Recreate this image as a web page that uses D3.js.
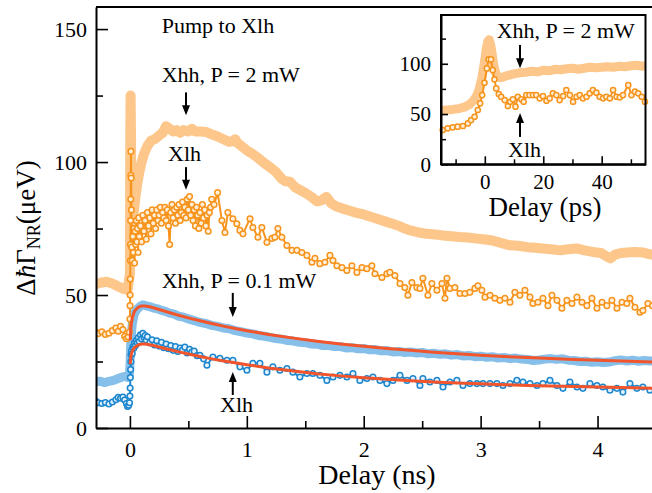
<!DOCTYPE html>
<html><head><meta charset="utf-8">
<script src="https://cdn.jsdelivr.net/npm/d3@7"></script>
<style>body{margin:0;background:#fff}</style>
</head><body><svg id="c" width="652" height="493" font-family="Liberation Serif"></svg>
<script>
// ---------------- DATA (delay, value) ----------------
const mainXTicks = [0, 1, 2, 3, 4];
const mainXMinor = [0.5, 1.5, 2.5, 3.5, 4.5];
const mainYTicks = [0, 50, 100, 150];
const mainYMinor = [25, 75, 125];
const insetXTicks = [0, 20, 40];
const insetXMinor = [-10, 10, 30, 50];
const insetYTicks = [0, 50, 100];
const insetYMinor = [25, 75, 125];

const xhh2mW = [[-0.3,54],[-0.25,54.6],[-0.2,55],[-0.15,54.3],[-0.1,53.2],[-0.05,52.2],[-0.02,52],[0,58],[0.003,110],[0.006,125],[0.009,112],[0.013,85],[0.018,76],[0.03,80],[0.045,86],[0.06,91],[0.08,96],[0.1,100],[0.12,103],[0.15,106],[0.18,108],[0.21,108.5],[0.25,110],[0.28,111],[0.31,113.5],[0.34,112.5],[0.37,111.5],[0.4,112],[0.43,111],[0.46,112],[0.5,111.5],[0.53,112.5],[0.56,111.5],
[0.6,111.5],[0.65,111.3],[0.7,110.4],[0.75,109.6],[0.8,108.6],[0.85,107.6],[0.88,107.8],[0.9,108.6],[0.92,107.2],[0.96,105.8],[1.0,104.4],[1.05,103],[1.1,101.4],[1.15,99.6],[1.2,98],[1.25,96.2],[1.3,93.6],[1.33,92.8],[1.37,92.6],[1.41,90.6],[1.45,89.6],[1.5,88.4],[1.55,87],[1.6,85.2],[1.64,85.6],[1.68,86.9],[1.72,84.6],[1.76,83.4],[1.82,82.5],[1.88,81.7],[1.94,80.9],[2.0,80.3],[2.06,79.4],[2.12,78.6],[2.18,77.7],[2.24,76.9],[2.3,76],[2.35,75],
[2.4,74.3],[2.47,73.5],[2.54,73],[2.61,72.8],[2.68,72.4],[2.75,72.1],[2.82,71.8],[2.89,71.6],[2.97,71.2],[3.04,70.9],[3.1,70.5],[3.18,69.5],[3.25,68.7],[3.32,68.5],[3.4,68],[3.47,67.8],[3.53,67.5],[3.6,67.2],[3.68,66.8],[3.75,67.2],[3.82,67.5],[3.89,66.8],[3.96,66.2],[4.03,65.8],[4.08,64.5],[4.11,63.8],[4.15,65.2],[4.2,65.8],[4.25,66],[4.32,66.2],[4.39,66],[4.45,65.3],[4.5,65]];

const xlh2mW = [[-0.29,36],[-0.27,35.5],[-0.24,36.2],[-0.21,35.2],[-0.18,35.6],[-0.15,36.6],[-0.12,37.6],[-0.1,36.4],[-0.08,38.2],[-0.06,37],[-0.045,34.5],[-0.03,33.6],[-0.015,34.2],[-0.005,36],
[0.0,41],[0.001,46],[0.002,50],[0.003,56],[0.004,63],[0.005,69],[0.006,78],[0.007,86],[0.008,95],[0.009,104],[0.011,94],[0.013,82],[0.016,68],[0.02,63],
[0.025,72],[0.03,66],[0.035,75],[0.04,62],[0.045,74],[0.05,69],[0.055,78],[0.06,70],[0.065,75],[0.07,66],[0.075,79],[0.08,72],[0.09,76],[0.1,70],[0.11,80],[0.12,74],[0.13,78],[0.14,71],[0.15,81],[0.16,76],[0.17,79],[0.18,73],[0.19,82],[0.2,77],[0.21,80],[0.22,75],[0.23,82],[0.24,78],[0.25,80],[0.26,83],[0.27,77],[0.28,81],[0.29,79],[0.3,83],[0.31,78],[0.32,82],[0.33,76],[0.34,69],[0.35,81],[0.36,84],[0.37,79],[0.38,82],[0.39,77],[0.4,83],[0.41,80],[0.42,84],[0.43,78],[0.44,81],[0.45,85],[0.46,80],[0.47,83],[0.48,79],[0.49,86],[0.5,82],[0.51,87],[0.52,80],[0.53,84],[0.54,78],[0.55,82],[0.56,76],[0.57,83],[0.58,80],[0.59,75],[0.6,81],[0.61,77],[0.62,84],[0.63,79],[0.64,82],[0.65,76],[0.66,80],[0.67,74],[0.68,81],[0.69,83],[0.7,86],[0.72,84],[0.75,88.5],
[0.787,78],[0.813,73.5],[0.838,81],[0.881,78.7],[0.915,76.8],[0.941,74.3],[0.967,73],[1.027,78.7],[1.052,75.4],[1.095,71.7],[1.129,75.4],[1.172,69.8],[1.215,71.3],[1.24,71.7],[1.266,75],[1.3,71.7],[1.343,68.6],[1.386,66.8],[1.429,66.8],[1.471,66],[1.514,64.9],[1.557,62.3],[1.583,63.8],[1.625,61.8],[1.668,62.3],[1.711,64.9],[1.737,63],[1.771,61],[1.814,60.3],[1.856,59.2],[1.899,61],[1.942,58.5],[1.985,60.3],[2.027,59.9],[2.07,61],[2.096,58],[2.156,56.6],[2.198,58],[2.224,58.5],[2.267,57.3],[2.31,54.3],[2.352,52.8],[2.378,49.9],[2.412,54.7],[2.455,52.8],
[2.481,52.5],[2.506,56.3],[2.549,49.9],[2.583,54.3],[2.626,51.8],[2.669,54.3],[2.695,48.8],[2.712,56.3],[2.737,52.5],[2.78,52.8],[2.823,50.6],[2.866,50.6],[2.908,51],[2.951,52.5],[2.977,53.5],[3.011,51.8],[3.037,49.2],[3.08,49.9],[3.122,48.8],[3.165,48],[3.208,48.8],[3.251,47.3],[3.293,51],[3.336,49.9],[3.379,51.8],[3.422,49.2],[3.447,46.8],[3.49,47.3],[3.533,48.8],[3.576,46],[3.61,49.9],[3.653,48],[3.695,45],[3.738,48],[3.781,46.8],[3.824,49.2],[3.867,47.3],[3.909,46],[3.952,48.8],[3.995,45],[4.038,47.3],[4.08,46],[4.123,48],[4.166,45],[4.209,47.3],[4.251,46.8],[4.277,48.8],[4.32,45.4],[4.363,43.5],[4.388,44.2],[4.431,46.8],[4.47,46]];

const xhh01mW = [[-0.3,17.3],[-0.26,17.6],[-0.22,17.1],[-0.18,17.5],[-0.14,17.9],[-0.1,18.6],[-0.07,19.1],[-0.04,19.4],[-0.02,19],[-0.005,20],[0.0,23],[0.005,29],[0.01,34],[0.02,39],[0.035,42.5],[0.05,44],[0.07,45],[0.09,45.8],[0.11,46.3],[0.13,46.1],[0.15,45.8],[0.18,45.5],[0.21,45],[0.24,44.8],[0.27,44.2],[0.3,43.9],[0.34,43.2],[0.38,42.8],[0.42,42],[0.46,41.7],[0.5,41],[0.55,40.4],[0.6,39.7],[0.65,39.3],[0.7,38.6],[0.75,38.2],[0.8,37.6],[0.85,37.3],[0.9,36.6],[0.95,36.2],[1.0,35.7],[1.05,35.4],[1.1,34.8],[1.15,34.5],[1.2,34.1],[1.25,33.6],[1.3,33.4],[1.35,32.9],[1.4,32.7],[1.45,32.2],[1.5,32.1],[1.55,31.6],[1.6,31.5],[1.65,31],[1.7,31],[1.75,30.6],[1.8,30.6],[1.85,30.1],[1.9,30.2],[1.95,29.8],[2.0,29.9],[2.05,29.4],[2.1,29.5],[2.15,29],[2.2,29.1],[2.25,28.6],[2.3,28.8],[2.35,28.4],[2.4,28.6],[2.45,28.2],[2.5,28.4],[2.55,27.9],[2.6,28.1],[2.65,27.7],[2.7,27.9],[2.75,27.4],[2.8,27.6],[2.85,27.1],[2.9,27.3],[2.95,26.8],[3.0,27],[3.05,26.6],[3.1,26.8],[3.15,26.3],[3.2,26.5],[3.25,26.1],[3.3,26.3],[3.35,25.9],[3.4,25.8],[3.45,25.4],[3.5,25.6],[3.55,25.9],[3.6,26.1],[3.65,25.8],[3.7,26],[3.75,25.5],[3.8,25.4],[3.85,25],[3.9,25.1],[3.95,24.7],[4.0,24.9],[4.05,24.6],[4.1,24.8],[4.15,25.3],[4.2,25.6],[4.25,25.2],[4.3,25.5],[4.35,25.1],[4.4,25.4],[4.45,25.2],[4.5,25.3]];

const xlh01mW = [[-0.29,10],[-0.27,9.5],[-0.24,9.2],[-0.21,9.6],[-0.18,9],[-0.15,9.8],[-0.12,10.6],[-0.1,11.5],[-0.08,11.2],[-0.06,11.6],[-0.045,10.5],[-0.03,9.2],[-0.02,8.1],[-0.01,8.6],[-0.003,9.5],
[0.0,12],[0.002,15],[0.004,19],[0.006,22],[0.008,25],[0.01,27.5],[0.014,29],[0.02,28],[0.026,30.5],[0.033,30],[0.04,32],[0.048,31],[0.056,33],[0.064,32],[0.072,34],[0.08,32.5],[0.09,35],[0.1,33.5],[0.11,35.6],[0.12,34],[0.13,34.8],[0.14,33],[0.15,34.3],[0.17,32],[0.19,33.2],[0.21,31.2],[0.23,32.8],[0.25,30.8],[0.27,32.2],[0.29,30.2],[0.31,31.6],[0.33,29.8],[0.35,31],[0.37,29.2],[0.39,30.6],[0.41,28.8],[0.43,30.1],[0.45,29.3],[0.47,30.4],[0.49,28.2],[0.51,29.6],[0.53,28.6],[0.55,28.9],[0.575,27.2],[0.599,27.3],[0.63,26],[0.659,23.6],[0.71,26.7],[0.77,26.2],[0.83,25.5],[0.881,25.5],[0.941,23],[1.001,21.7],[1.052,24.3],[1.112,24.3],[1.172,21],[1.223,23],[1.283,21.7],[1.343,22.4],[1.394,21],[1.454,19.2],[1.514,20.5],[1.565,20.5],[1.625,19.8],[1.685,17.9],[1.737,19.2],[1.796,19.8],[1.856,19.2],[1.908,20.5],[1.967,17.9],[2.027,18.6],[2.079,19.2],[2.139,17.9],[2.198,16.7],[2.25,17.9],[2.31,19.8],[2.37,17.9],[2.421,18.6],[2.481,16],[2.506,18.6],[2.566,17.3],[2.626,17.9],[2.678,15.4],[2.737,17.3],[2.797,17.9],[2.849,16],[2.908,16.7],[2.968,16.7],[3.02,16.7],[3.08,16.7],[3.139,16.7],[3.191,16],[3.251,16.7],[3.31,17.9],[3.362,17.3],[3.422,16.7],[3.482,16],[3.533,16.7],[3.593,17.9],[3.653,16],[3.704,14.9],[3.764,17.3],[3.824,15.4],[3.875,14.9],[3.935,16.7],[3.995,16],[4.046,15.4],[4.106,14.2],[4.166,14.9],[4.217,13.5],[4.277,16.7],[4.337,14.9],[4.388,15.4],[4.448,14.2]];

const fitXhh01mW = [[0.003,33],[0.006,36],[0.01,38.5],[0.02,41.5],[0.04,44],[0.07,45.4],[0.1,45.9],[0.13,45.9],[0.17,45.6],[0.2,45.2],[0.3,43.9],[0.4,42.6],[0.5,41.4],[0.6,40.3],[0.7,39.3],[0.8,38.3],[0.9,37.4],[1.0,36.6],[1.2,35.1],[1.4,33.8],[1.6,32.6],[1.8,31.6],[2.0,30.7],[2.2,29.9],[2.4,29.2],[2.6,28.5],[2.8,27.9],[3.0,27.4],[3.2,26.9],[3.4,26.5],[3.6,26.1],[3.8,25.8],[4.0,25.5],[4.2,25.2],[4.5,24.8]];
const fitXlh01mW = [[0.003,24],[0.006,26],[0.01,27.3],[0.02,28.9],[0.04,30.3],[0.07,31.2],[0.1,31.6],[0.13,31.6],[0.17,31.3],[0.2,31],[0.3,29.9],[0.4,28.8],[0.5,27.8],[0.6,26.9],[0.7,26],[0.8,25.2],[0.9,24.5],[1.0,23.8],[1.2,22.5],[1.4,21.4],[1.6,20.4],[1.8,19.6],[2.0,18.9],[2.2,18.3],[2.4,17.8],[2.6,17.3],[2.8,16.9],[3.0,16.6],[3.2,16.3],[3.4,16.0],[3.6,15.8],[3.8,15.6],[4.0,15.4],[4.2,15.2],[4.5,14.9]];

const insetXhh = [[-15,53.5],[-13,54],[-11,54.6],[-9,55.4],[-7,56.8],[-5,60],[-4,63],[-3,67],[-2,74],[-1,86],[0,104],[0.5,115],[1,122],[1.5,124],[2,119],[2.5,110],[3,100],[3.5,93],[4,89],[5,86],[6,86.5],[7,87.5],[8,88.5],[10,90],[12,91],[14,91.5],[16,92.5],[18,92],[20,93.5],[22,93],[24,94.5],[26,94],[28,95],[30,95.5],[32,94.5],[34,95.5],[36,96.5],[38,96],[40,96.5],[42,97],[44,96.5],[46,97.5],[48,97],[50,98],[52,98.5],[54,97.5],[55,98]];
const insetXlh = [[-14.4,34.1],[-12.7,35.8],[-11,36.8],[-9.3,37.4],[-7.5,38.1],[-5.8,40.7],[-4.7,44],[-3.5,47.3],[-2.4,54],[-1.6,60.6],[-0.9,68.9],[-0.1,81.1],[0.7,95.4],[1.3,104.4],[2.1,104.4],[2.7,93.7],[3.3,84.5],[3.9,75.5],[4.8,69.9],[5.6,67.2],[6.8,63.9],[7.9,58],[8.7,62.2],[9.6,64.6],[10.5,57.3],[11.3,67.2],[12.5,64.6],[13.3,62.2],[14.2,68.9],[15.3,68.9],[16.5,68.9],[17.6,68.9],[18.8,65.6],[19.9,67.9],[21.1,63.2],[22.2,65.6],[23.3,70.6],[24.5,68.9],[25.6,63.9],[26.8,67.9],[27.9,73.9],[29.1,68.9],[30.2,62.2],[31.4,67.2],[32.5,68.9],[33.6,65.6],[34.8,67.2],[35.9,70.6],[37,73.9],[38.2,71.2],[39.3,67.2],[40.5,65.6],[41.6,67.2],[42.8,65.6],[43.9,73.9],[45.1,67.2],[46.2,66.6],[47.3,68.9],[49.1,78.8],[50.2,68.9],[51.4,72.2],[52.5,70.6],[53.7,67.2],[54.8,62.2]];

const mainLabels = [
  {text:"Pump to Xlh", t:0.272, v:148.4},
  {text:"Xhh, P = 2 mW", t:0.272, v:130.2},
  {text:"Xlh", t:0.326, v:100.4},
  {text:"Xhh, P = 0.1 mW", t:0.272, v:52.5},
  {text:"Xlh", t:0.771, v:6.1}
];
const mainArrows = [
  {t:0.48, from:126.2, to:117.6},
  {t:0.48, from:98.1, to:89.6},
  {t:0.88, from:50.8, to:41.7},
  {t:0.88, from:12.4, to:21.1}
];
const insetLabels = [
  {text:"Xhh, P = 2 mW", t:4.07, v:125.3},
  {text:"Xlh", t:7.94, v:7.3}
];
const insetArrows = [
  {t:12.05, from:118.7, to:95.5},
  {t:12.05, from:27.2, to:51}
];

// ---------------- DRAWING ----------------
const FONT = "Liberation Serif";
const cLightOrange = "#FDC78B", cOrange = "#F7941D", cLightBlue = "#86C0EA", cBlue = "#1C86CE", cRed = "#F2552C";
const svg = d3.select("#c");

const x = d3.scaleLinear().domain([-0.29, 4.5]).range([96, 656]);
const y = d3.scaleLinear().domain([0, 158.3]).range([428, 7]);
const xi = d3.scaleLinear().domain([-15, 55]).range([441, 645.5]);
const yi = d3.scaleLinear().domain([0, 148.5]).range([164.3, 15]);

const plot = svg.append("g");
const lineGen = (sx, sy) => d3.line().x(d => sx(d[0])).y(d => sy(d[1]));

function band(g, data, sx, sy, color, w) {
  g.append("path").datum(data).attr("d", lineGen(sx, sy)).attr("fill","none")
   .attr("stroke", color).attr("stroke-width", w).attr("stroke-linejoin","round").attr("stroke-linecap","butt");
}
function markers(g, data, sx, sy, color, fill, r) {
  g.append("path").datum(data).attr("d", lineGen(sx, sy)).attr("fill","none")
   .attr("stroke", color).attr("stroke-width", 2).attr("stroke-linejoin","round");
  g.append("g").selectAll("circle").data(data).join("circle")
   .attr("cx", d => sx(d[0])).attr("cy", d => sy(d[1])).attr("r", r)
   .attr("fill", fill).attr("stroke", color).attr("stroke-width", 1.5);
}

band(plot, xhh2mW, x, y, cLightOrange, 10);
band(plot, xhh01mW, x, y, cLightBlue, 9);
markers(plot, xlh2mW, x, y, cOrange, "#FFEFD9", 2.8);
markers(plot, xlh01mW, x, y, cBlue, "#E2F1FC", 2.8);
[fitXhh01mW, fitXlh01mW].forEach(f => plot.append("path").datum(f).attr("d", lineGen(x, y))
  .attr("fill","none").attr("stroke", cRed).attr("stroke-width", 3).attr("stroke-linejoin","round"));
// white margin to the left of the main frame
svg.append("rect").attr("x", 0).attr("y", 0).attr("width", x(-0.29)).attr("height", 493).attr("fill", "#fff");

// inset background + data
svg.append("rect").attr("x", xi(-15)).attr("y", yi(148.5)).attr("width", xi(55)-xi(-15)).attr("height", yi(0)-yi(148.5))
  .attr("fill","#fff");
const ip = svg.append("g");
band(ip, insetXhh, xi, yi, cLightOrange, 9);
markers(ip, insetXlh, xi, yi, cOrange, "#FFEFD9", 2.6);

const annLayer = svg.append("g").attr("font-family", FONT);
function styleAxis(g, fs) {
  g.attr("font-family", FONT).attr("font-size", fs);
  g.selectAll(".domain").attr("stroke-width", 2);
  g.selectAll(".tick line").attr("stroke-width", 1.6);
  g.selectAll(".tick text").attr("fill","#000").attr("font-family", FONT).attr("font-size", fs);
}
function minorAxis(gen, tr, w) {
  annLayer.append("g").attr("transform", tr).call(gen)
    .call(g => { g.select(".domain").remove(); g.selectAll(".tick line").attr("stroke-width", w); });
}

minorAxis(d3.axisBottom(x).tickValues(mainXMinor).tickSize(-7).tickSizeOuter(0).tickFormat(""), `translate(0,${y(0)})`, 1.6);
annLayer.append("g").attr("transform",`translate(0,${y(0)})`)
  .call(d3.axisBottom(x).tickValues(mainXTicks).tickSize(-12).tickSizeOuter(0).tickPadding(13).tickFormat(d3.format("d")))
  .call(g => styleAxis(g, 22));
minorAxis(d3.axisLeft(y).tickValues(mainYMinor).tickSize(-7).tickSizeOuter(0).tickFormat(""), `translate(${x(-0.29)},0)`, 1.6);
annLayer.append("g").attr("transform",`translate(${x(-0.29)},0)`)
  .call(d3.axisLeft(y).tickValues(mainYTicks).tickSize(-12).tickSizeOuter(0).tickPadding(9).tickFormat(d3.format("d")))
  .call(g => styleAxis(g, 22));
annLayer.append("line").attr("x1", x(-0.29)).attr("x2", x(4.5)).attr("y1", y(158.3)).attr("y2", y(158.3))
  .attr("stroke","#000").attr("stroke-width",2);

function txt(px, py, s, fs, anchor) {
  return annLayer.append("text").attr("x", px).attr("y", py).attr("font-size", fs)
    .attr("text-anchor", anchor || "start").attr("font-family", FONT).text(s);
}
txt(377, 484, "Delay (ns)", 28, "middle");
const yt = annLayer.append("text").attr("transform","translate(35,228) rotate(-90)")
  .attr("text-anchor","middle").attr("font-size", 27).attr("font-family", FONT);
yt.append("tspan").text("Δ");
yt.append("tspan").attr("font-style","italic").text("ħ");
yt.append("tspan").text("Γ");
yt.append("tspan").attr("font-size", 18).attr("dy", 5).text("NR");
yt.append("tspan").attr("dy", -5).text("(μeV)");

function arrow(px, y1, y2) {
  const dir = y2 > y1 ? 1 : -1;
  annLayer.append("line").attr("x1", px).attr("x2", px).attr("y1", y1).attr("y2", y2 - dir*8)
   .attr("stroke","#000").attr("stroke-width",2);
  annLayer.append("path").attr("d", `M${px-4},${y2-dir*10}L${px+4},${y2-dir*10}L${px},${y2}Z`).attr("fill","#000");
}
mainLabels.forEach(l => txt(x(l.t), y(l.v), l.text, 22));
mainArrows.forEach(a => arrow(x(a.t), y(a.from), y(a.to)));

minorAxis(d3.axisBottom(xi).tickValues(insetXMinor).tickSize(-5).tickSizeOuter(0).tickFormat(""), `translate(0,${yi(0)})`, 1.5);
annLayer.append("g").attr("transform",`translate(0,${yi(0)})`)
  .call(d3.axisBottom(xi).tickValues(insetXTicks).tickSize(-8).tickSizeOuter(0).tickPadding(10).tickFormat(d3.format("d")))
  .call(g => styleAxis(g, 21));
minorAxis(d3.axisLeft(yi).tickValues(insetYMinor).tickSize(-5).tickSizeOuter(0).tickFormat(""), `translate(${xi(-15)},0)`, 1.5);
annLayer.append("g").attr("transform",`translate(${xi(-15)},0)`)
  .call(d3.axisLeft(yi).tickValues(insetYTicks).tickSize(-7).tickSizeOuter(0).tickPadding(10).tickFormat(d3.format("d")))
  .call(g => styleAxis(g, 21));
annLayer.append("rect").attr("x", xi(-15)).attr("y", yi(148.5)).attr("width", xi(55)-xi(-15)).attr("height", yi(0)-yi(148.5))
  .attr("fill","none").attr("stroke","#000").attr("stroke-width",2);
txt(545, 216, "Delay (ps)", 27, "middle");
insetLabels.forEach(l => txt(xi(l.t), yi(l.v), l.text, 22));
insetArrows.forEach(a => arrow(xi(a.t), yi(a.from), yi(a.to)));
</script>
</body></html>
